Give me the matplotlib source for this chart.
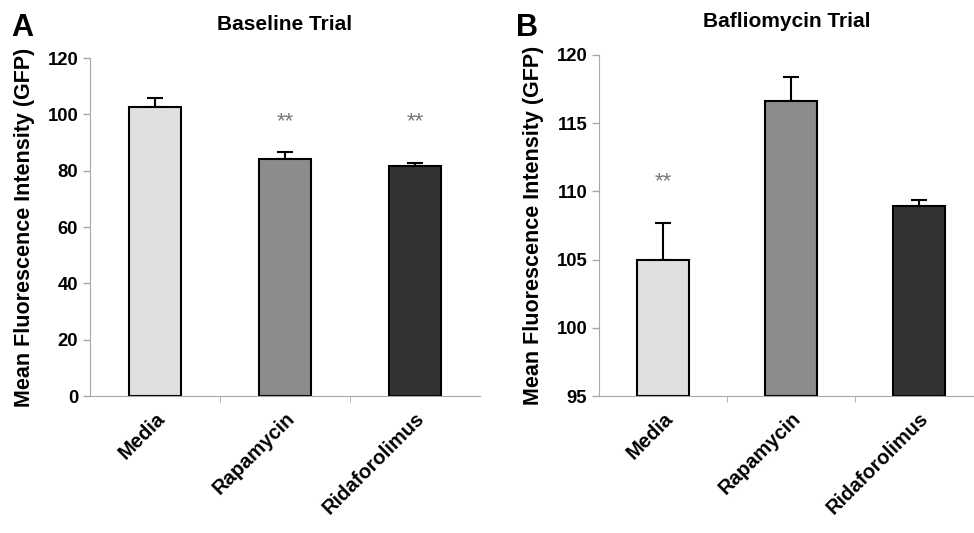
import matplotlib.pyplot as plt
import numpy as np

plt.rcParams['font.family'] = ['Liberation Sans', 'DejaVu Sans']
plt.rcParams['font.weight'] = 'bold'

groups = ['Media', 'Rapamycin', 'Ridaforolimus']
colors = ['#e0e0e0', '#8c8c8c', '#333333']

# panel A - baseline
base_mean = [102.7, 84.1, 81.8]
base_err = [3.3, 2.6, 1.0]
base_stars = [None, '**', '**']

# panel B - bafilomycin
baf_mean = [105.0, 116.6, 108.9]
baf_err = [2.7, 1.8, 0.5]
baf_stars = ['**', None, None]

fig = plt.figure(figsize=(9.74, 5.33), dpi=100)
gray = '#a8a8a8'


def panel(ax, means, errs, stars, ylim, yticks, star_y, title):
    x = np.arange(len(groups))
    ax.bar(x, [m - ylim[0] for m in means], bottom=ylim[0], width=0.4,
           color=colors, edgecolor='black', linewidth=1.5, zorder=2)
    ax.errorbar(x, means, yerr=[np.zeros(len(errs)), errs], fmt='none',
                ecolor='black', elinewidth=1.5, capsize=6, capthick=1.5, zorder=1)
    for xi, s in zip(x, stars):
        if s:
            ax.text(xi, star_y, s, ha='center', va='center', fontsize=16,
                    color='#777777', fontweight='normal')
    ax.set_ylim(*ylim)
    ax.set_yticks(yticks)
    ax.set_xticks(x)
    ax.set_xticklabels(groups, rotation=45, ha='right', rotation_mode='anchor',
                       fontsize=14.5, fontweight='bold')
    ax.set_xticks(np.arange(len(groups) - 1) + 0.5, minor=True)
    ax.tick_params(axis='x', which='major', length=0, pad=9)
    ax.tick_params(axis='x', which='minor', length=4, color=gray, direction='out')
    ax.tick_params(axis='y', length=5, color=gray, labelsize=13.3, width=1)
    for lab in ax.get_yticklabels():
        lab.set_fontweight('bold')
    for sp in ['top', 'right']:
        ax.spines[sp].set_visible(False)
    ax.spines['left'].set_color(gray)
    ax.spines['bottom'].set_color(gray)
    ax.set_ylabel('Mean Fluorescence Intensity (GFP)', fontsize=15.5,
                  fontweight='bold', labelpad=9)
    ax.set_title(title, fontsize=15, fontweight='bold', pad=20)


axA = fig.add_axes([0.0924, 0.257, 0.4004, 0.634])
panel(axA, base_mean, base_err, base_stars, (0, 120), range(0, 121, 20), 97.3,
      'Baseline Trial')
axA.set_xlim(-0.5, 2.5)

axB = fig.add_axes([0.615, 0.257, 0.385, 0.640])
panel(axB, baf_mean, baf_err, baf_stars, (95, 120), range(95, 121, 5), 110.7,
      'Bafliomycin Trial')
axB.set_xlim(-0.5, 2.43)

fig.text(0.012, 0.932, 'A', fontsize=22, fontweight='bold')
fig.text(0.530, 0.932, 'B', fontsize=22, fontweight='bold')

fig.savefig('out.png', dpi=100)
